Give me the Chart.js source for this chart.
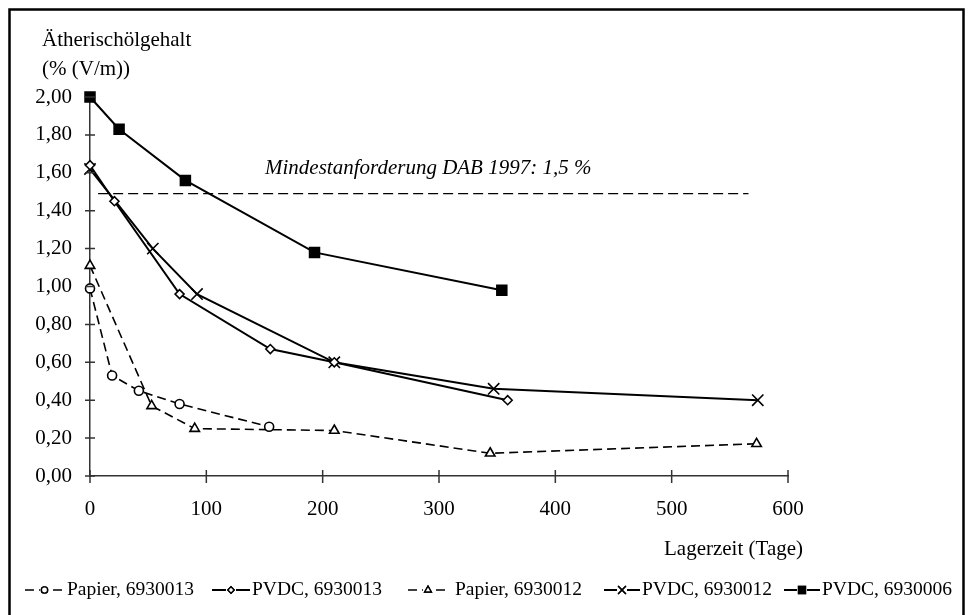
<!DOCTYPE html>
<html>
<head>
<meta charset="utf-8">
<script src="https://cdn.jsdelivr.net/npm/chart.js@4.4.1/dist/chart.umd.min.js"></script>
<style>
  html, body { margin: 0; padding: 0; background: #fff; }
  #wrap { width: 968px; height: 615px; }
</style>
</head>
<body>
<div id="wrap"><canvas id="chart" width="968" height="615"></canvas></div>
<script>
// Lagerzeit (Tage) / Ätherischölgehalt (% V/m)
const papier13Days = [0, 19, 42, 77, 154];
const papier13Vals = [0.99, 0.53, 0.45, 0.38, 0.26];
const pvdc13Days = [0, 21, 77, 155, 210, 359];
const pvdc13Vals = [1.64, 1.45, 0.96, 0.67, 0.60, 0.40];
const papier12Days = [0, 53, 90, 210, 344, 573];
const papier12Vals = [1.11, 0.37, 0.25, 0.24, 0.12, 0.17];
const pvdc12Days = [0, 54, 92, 210, 347, 574];
const pvdc12Vals = [1.62, 1.20, 0.96, 0.60, 0.46, 0.40];
const pvdc06Days = [0, 25, 82, 193, 354];
const pvdc06Vals = [2.00, 1.83, 1.56, 1.18, 0.98];

const refDays = [7, 566];
const refLevel = 1.49;

const seriesLabels = ['Papier, 6930013', 'PVDC, 6930013', 'Papier, 6930012', 'PVDC, 6930012', 'PVDC, 6930006'];
const xTicks = [0, 100, 200, 300, 400, 500, 600];
const yTicks = [0, 0.2, 0.4, 0.6, 0.8, 1.0, 1.2, 1.4, 1.6, 1.8, 2.0];

const yTitle = ['Ätherischölgehalt', '(% (V/m))'];
const xTitle = 'Lagerzeit (Tage)';
const refText = 'Mindestanforderung DAB 1997: 1,5 %';

const SERIF = '"Liberation Serif", "Times New Roman", serif';

function pts(xs, ys) {
  return xs.map((x, i) => ({ x: x, y: ys[i] }));
}

function series(label, xs, ys, style, radius, dashed, filled) {
  return {
    label: label,
    data: pts(xs, ys),
    showLine: true,
    clip: false,
    borderColor: '#000',
    borderWidth: dashed ? 1.6 : 2,
    borderDash: dashed ? [9, 5] : [],
    pointStyle: style,
    pointRadius: radius,
    pointBorderWidth: 1.6,
    pointBorderColor: '#000',
    pointBackgroundColor: filled ? '#000' : '#fff',
    tension: 0
  };
}

const datasets = [
  {
    label: 'ref',
    data: pts(refDays, [refLevel, refLevel]),
    showLine: true,
    borderColor: '#000',
    borderWidth: 1.2,
    borderDash: [10, 5],
    pointRadius: 0
  },
  series(seriesLabels[0], papier13Days, papier13Vals, 'circle', 4.5, true, false),
  series(seriesLabels[1], pvdc13Days, pvdc13Vals, 'rectRot', 4.5, false, false),
  series(seriesLabels[2], papier12Days, papier12Vals, 'triangle', 5.5, true, false),
  series(seriesLabels[3], pvdc12Days, pvdc12Vals, 'crossRot', 8, false, false),
  series(seriesLabels[4], pvdc06Days, pvdc06Vals, 'rect', 7, false, true)
];

// axis ticks crossing the axis lines, titles, annotation, frame and legend
const decorations = {
  id: 'decorations',
  afterDraw(chart) {
    const ctx = chart.ctx;
    const xs = chart.scales.x, ys = chart.scales.y;
    const x0 = xs.getPixelForValue(0), y0 = ys.getPixelForValue(0);
    ctx.save();

    ctx.strokeStyle = '#333';
    ctx.lineWidth = 1.5;
    ctx.beginPath();
    yTicks.forEach(v => {
      const py = ys.getPixelForValue(v);
      ctx.moveTo(x0 - 5, py); ctx.lineTo(x0 + 5, py);
    });
    xTicks.forEach(v => {
      const px = xs.getPixelForValue(v);
      ctx.moveTo(px, y0 - 6); ctx.lineTo(px, y0 + 7);
    });
    ctx.stroke();

    ctx.fillStyle = '#000';
    ctx.textBaseline = 'middle';
    ctx.textAlign = 'left';
    ctx.font = '21px ' + SERIF;
    ctx.fillText(yTitle[0], 42, 40);
    ctx.fillText(yTitle[1], 42, 69);
    ctx.fillText(xTitle, 664, 549);

    ctx.font = 'italic 21px ' + SERIF;
    ctx.fillText(refText, 265, 168);

    // frame
    ctx.strokeStyle = '#000';
    ctx.lineWidth = 2.5;
    ctx.strokeRect(9.5, 9.5, 954, 620);

    // legend
    const items = [
      { ds: 1, x0: 25, x1: 64, tx: 67 },
      { ds: 2, x0: 212, x1: 250, tx: 252 },
      { ds: 3, x0: 408, x1: 448, tx: 455 },
      { ds: 4, x0: 604, x1: 640, tx: 642 },
      { ds: 5, x0: 784, x1: 820, tx: 822 }
    ];
    const ly = 590;
    ctx.font = '19.5px ' + SERIF;
    items.forEach(it => {
      const d = datasets[it.ds];
      ctx.strokeStyle = '#000';
      ctx.lineWidth = d.borderWidth;
      ctx.setLineDash(d.borderDash);
      ctx.beginPath();
      ctx.moveTo(it.x0, ly); ctx.lineTo(it.x1, ly);
      ctx.stroke();
      ctx.setLineDash([]);
      const mx = (it.x0 + it.x1) / 2;
      ctx.lineWidth = 1.4;
      ctx.clearRect(mx - 5, ly - 5, 10, 10);
      Chart.helpers.drawPoint(ctx, {
        pointStyle: d.pointStyle,
        radius: d.pointRadius * 0.7,
        rotation: 0,
        borderWidth: 1.4
      }, mx, ly);
      ctx.fillStyle = d.pointBackgroundColor;
      ctx.fill();
      ctx.stroke();
      ctx.fillStyle = '#000';
      ctx.fillText(d.label, it.tx, ly);
    });
    ctx.restore();
  }
};

new Chart(document.getElementById('chart'), {
  type: 'scatter',
  data: { datasets: datasets },
  options: {
    responsive: false,
    animation: false,
    layout: { padding: { left: 0, top: 97, right: 180, bottom: 0 } },
    plugins: { legend: { display: false }, tooltip: { enabled: false } },
    scales: {
      x: {
        type: 'linear',
        min: 0, max: 600,
        afterFit(scale) { scale.height = 139; },
        afterBuildTicks(scale) { scale.ticks = xTicks.map(v => ({ value: v })); },
        ticks: {
          color: '#000',
          font: { family: SERIF, size: 21 },
          padding: 21
        },
        grid: { display: false, drawTicks: false },
        border: { display: true, color: '#333', width: 1.5 }
      },
      y: {
        type: 'linear',
        min: 0, max: 2,
        afterFit(scale) { scale.width = 90; },
        afterBuildTicks(scale) { scale.ticks = yTicks.map(v => ({ value: v })); },
        ticks: {
          color: '#000',
          font: { family: SERIF, size: 21 },
          padding: 18,
          callback: v => v.toFixed(2).replace('.', ',')
        },
        grid: { display: false, drawTicks: false },
        border: { display: true, color: '#333', width: 1.5 }
      }
    }
  },
  plugins: [decorations]
});
</script>
</body>
</html>
